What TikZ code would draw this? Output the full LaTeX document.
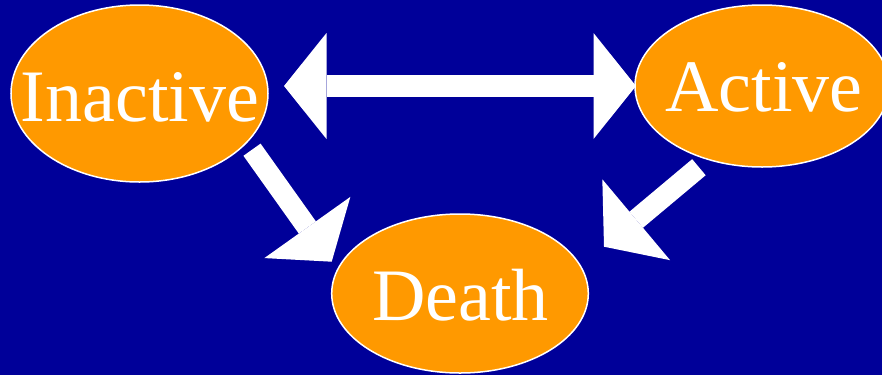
\documentclass[tikz,border=0pt]{standalone}
\usepackage{fontspec}
\setmainfont{Liberation Serif}
\usetikzlibrary{shapes.geometric,arrows.meta}
\definecolor{bgblue}{HTML}{000099}
\definecolor{stateorange}{HTML}{FF9900}
\tikzset{
  stateell/.style={ellipse, fill=stateorange, draw=white, line width=1.5pt,
    inner sep=0pt, outer sep=0pt},
  statetext/.style={anchor=base, inner sep=0pt, text=white,
    font=\fontsize{74}{80}\selectfont},
  blockarrow/.style={draw=white, line width=21pt, line cap=butt, -{Triangle[length=42pt,width=105.5pt,line width=0pt]}},
  dblarrow/.style={draw=white, line width=22pt, {Triangle[length=42.5pt,width=106pt,line width=0pt]}-{Triangle[length=42.5pt,width=106pt,line width=0pt]}}
}
\begin{document}
\begin{tikzpicture}[x=1pt,y=-1pt]
\useasboundingbox (0,0) rectangle (882,375);
\clip (0,0) rectangle (882,375);
\fill[bgblue] (0,0) rectangle (882,375);
\node[stateell, minimum width=257pt, minimum height=177pt] (inactive) at (139.5,93.5) {};
\node[stateell, minimum width=254pt, minimum height=162pt] (active) at (762,86) {};
\node[stateell, minimum width=256.6pt, minimum height=159pt] (death) at (460,293.5) {};
\node[statetext] (inactivetext) at (140,121.7) {Inactive};
\node[statetext] (activetext) at (764,111.7) {Active};
\node[statetext] (deathtext) at (460.5,320.7) {Death};
\coordinate (dl) at (284,86);
\coordinate (dr) at (636,86);
\coordinate (a1s) at (252,149.7);
\coordinate (a1e) at (331.7,261.7);
\coordinate (a2s) at (698.9,167.2);
\coordinate (a2e) at (604,246.7);
\draw[dblarrow] (dl) -- (dr);
\draw[blockarrow] (a1s) -- (a1e);
\draw[blockarrow] (a2s) -- (a2e);
\end{tikzpicture}
\end{document}
